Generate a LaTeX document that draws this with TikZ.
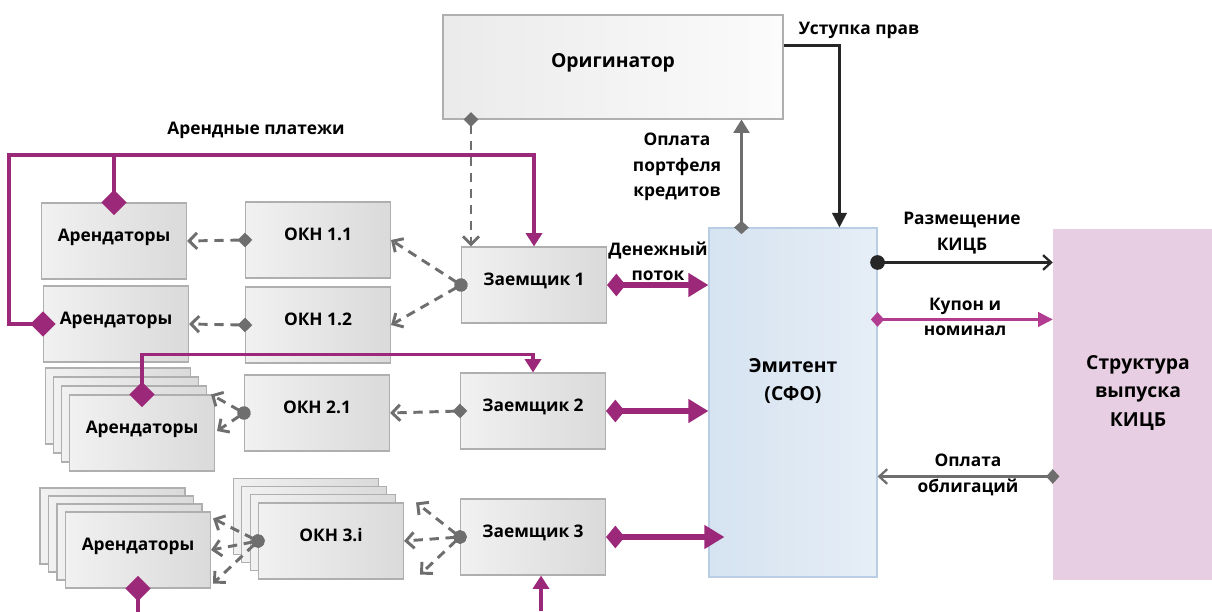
\documentclass[tikz,border=0pt]{standalone}
\usepackage{fontspec}
\setmainfont{Open Sans}
\usetikzlibrary{arrows.meta, positioning}

\definecolor{plum}{RGB}{156,40,122}
\definecolor{coupon}{RGB}{178,60,145}
\definecolor{linkgray}{RGB}{110,110,110}
\definecolor{boxline}{RGB}{175,175,175}
\definecolor{boxlight}{RGB}{241,241,241}
\definecolor{boxdark}{RGB}{218,218,218}
\definecolor{emitdark}{RGB}{214,227,241}
\definecolor{emitlight}{RGB}{230,238,246}
\definecolor{emitline}{RGB}{185,205,228}
\definecolor{structfill}{RGB}{232,206,226}

\newcommand{\boxfont}{\fontsize{13}{19}\selectfont\bfseries}
\newcommand{\headfont}{\fontsize{14.5}{21.5}\selectfont\bfseries}

\tikzstyle{block} = [rectangle, draw=boxline, line width=0.8pt, left color=boxlight, right color=boxdark, text centered, minimum width=108.75pt, minimum height=57pt, font=\boxfont, text height=9pt, text depth=9pt]
\tikzstyle{note} = [align=center, font=\boxfont, inner sep=1pt]
\tikzstyle{head} = [align=center, font=\headfont, inner sep=1pt]
\tikzstyle{link} = [line width=2.2pt, dash pattern=on 7pt off 5pt, draw=linkgray, -{Straight Barb[length=6pt,width=12pt]}]
\tikzstyle{linkd} = [link, {Diamond[length=11pt,width=11pt]}-{Straight Barb[length=6pt,width=12pt]}, shorten <=-5.5pt]
\tikzstyle{linkc} = [link, {Circle[length=10pt]}-{Straight Barb[length=6pt,width=12pt]}, shorten <=-5pt]
\tikzstyle{rent} = [line width=2.8pt, draw=plum, {Diamond[length=19pt,width=19pt]}-{Triangle[length=10pt,width=12pt]}, shorten <=-9.5pt]
\tikzstyle{rentend} = [line width=2.8pt, draw=plum, {Diamond[length=19pt,width=19pt]}-, shorten <=-9.5pt]
\tikzstyle{flow} = [line width=4.8pt, draw=plum, {Diamond[length=14pt,width=17pt]}-{Triangle[length=15pt,width=17pt]}]

\begin{document}
\begin{tikzpicture}[x=0.75pt, y=-0.75pt]
    \useasboundingbox (0,0) rectangle (1212,611);

    % Originator, issuer and bond issue
    \node (orig) [block, minimum width=255pt, minimum height=78pt, left color=gray!16, right color=gray!3, font=\headfont] at (613,67) {Оригинатор};
    \node (emit) [rectangle, draw=emitline, line width=0.8pt, left color=emitdark, right color=emitlight, minimum width=126pt, minimum height=261.75pt] at (793,402.5) {};
    \node (emit_txt) [head] at (793,381) {Эмитент\\(СФО)};
    \node (struct) [rectangle, fill=structfill, minimum width=119.25pt, minimum height=263.25pt] at (1132.5,404.5) {};
    \node (struct_txt) [head] at (1138,393) {Структура\\выпуска\\КИЦБ};

    % Borrower 1
    \node (arend1) [block] at (114,241) {Арендаторы};
    \node (arend2) [block] at (116,324) {Арендаторы};
    \node (okn11) [block] at (318,240) {ОКН 1.1};
    \node (okn12) [block] at (318,325) {ОКН 1.2};
    \node (zaem1) [block] at (534,285) {Заемщик 1};

    % Borrower 2
    \foreach \k in {3,2,1}
        \node (arendst2-\k) [block] at ({142-8*\k},{433-9*\k}) {};
    \node (arendst2) [block] at (142,433) {Арендаторы};
    \node (okn21) [block] at (317,413) {ОКН 2.1};
    \node (zaem2) [block] at (533,411) {Заемщик 2};

    % Borrower 3
    \foreach \k in {3,2,1}
        \node (arendst3-\k) [block] at ({138-8.5*\k},{550-8*\k}) {};
    \node (arendst3) [block] at (138,550) {Арендаторы};
    \foreach \k in {3,2,1}
        \node (okn3-\k) [block] at ({331-8.3*\k},{541-8.3*\k}) {};
    \node (okn3) [block] at (331,541) {ОКН 3.i};
    \node (zaem3) [block] at (533,537) {Заемщик 3};

    % Labels
    \node (lbl_rent) [note] at (256,130) {Арендные платежи};
    \node (lbl_pay) [note] at (677,167) {Оплата\\портфеля\\кредитов};
    \node (lbl_cess) [note] at (859,30) {Уступка прав};
    \node (lbl_cash) [note] at (658,261) {Денежный\\поток};
    \node (lbl_place) [note] at (962,233) {Размещение\\КИЦБ};
    \node (lbl_coupon) [note] at (965,317) {Купон и\\номинал};
    \node (lbl_bond) [note] at (968,475) {Оплата\\облигаций};
    \coordinate (rentin) at (541,611);

    % ==== Arrows
    % Lease payments
    \draw [rent] (arend2.west) -- ++(-34,0) -- ++(0,-169) -| (zaem1.north);
    \draw [rentend] (arend1.north) -- ++(0,-48);
    \draw [rent] (arendst2.north) -- ++(0,-40) -| (zaem2.north);
    \draw [rentend] (arendst3.south) -- ++(0,30);
    \draw [rent, {-Triangle[length=10pt,width=12pt]}, shorten <=0pt] (rentin) -- (rentin |- zaem3.south);

    % Cash flow to the issuer
    \draw [flow] (zaem1.east) -- (zaem1.east -| emit.west);
    \draw [flow] (zaem2.east) -- (zaem2.east -| emit.west);
    \draw [flow] (zaem3.east) -- ([xshift=12pt]zaem3.east -| emit.west);

    % Objects and lessees
    \draw [linkd] ([xshift=7.5pt]zaem1.north west |- orig.south) -- ([xshift=7.5pt]zaem1.north west);
    \draw [linkd] (okn11.west) -- (arend1.east);
    \draw [linkd] (okn12.west) -- (arend2.east);
    \draw [linkc] (zaem1.west) -- (okn11.east);
    \draw [linkc] (zaem1.west) -- (okn12.east);
    \draw [linkd] (zaem2.west) -- (okn21.east);
    \draw [linkc] (okn21.west) -- ([shift={(-4,0)}]arendst2.north east);
    \draw [linkc] (okn21.west) -- ([shift={(2,-2)}]arendst2.east);
    \draw [linkc] (zaem3.west) -- ([shift={(12,0)}]okn3.north east);
    \draw [linkc] (zaem3.west) -- (okn3.east);
    \draw [linkc] (zaem3.west) -- ([shift={(16,-5)}]okn3.south east);
    \draw [linkc] (okn3.west) -- ([shift={(2,7)}]arendst3.north east);
    \draw [linkc] (okn3.west) -- (arendst3.east);
    \draw [linkc] (okn3.west) -- ([shift={(2,-5)}]arendst3.south east);

    % Originator and issuer
    \draw [line width=1.7pt, black!85, -{Triangle[length=11pt,width=11pt]}] ([yshift=-23.25pt]orig.north east) -| ([xshift=98.25pt]emit.north west);
    \draw [line width=1.7pt, linkgray, {Diamond[length=10pt,width=11pt]}-{Triangle[length=10pt,width=12pt]}, shorten <=-5pt] ([xshift=24.75pt]emit.north west) -- ([xshift=24.75pt]emit.north west |- orig.south);

    % Issuer and bond issue
    \draw [line width=1.7pt, black!85, {Circle[length=11pt]}-{Straight Barb[length=6pt,width=11pt]}, shorten <=-5.5pt] ([yshift=-26.25pt]emit.north east) -- ([yshift=-26.25pt]emit.north east -| struct.west);
    \draw [line width=1.7pt, coupon, {Diamond[length=10pt,width=11pt]}-{Triangle[length=11pt,width=11pt]}, shorten <=-5pt] ([yshift=-69pt]emit.north east) -- ([yshift=-69pt]emit.north east -| struct.west);
    \draw [line width=1.7pt, linkgray, {Diamond[length=10pt,width=11pt]}-{Straight Barb[length=6pt,width=11pt]}, shorten <=-5pt] ([yshift=-186.75pt]emit.north east -| struct.west) -- ([yshift=-186.75pt]emit.north east);

\end{tikzpicture}
\end{document}
